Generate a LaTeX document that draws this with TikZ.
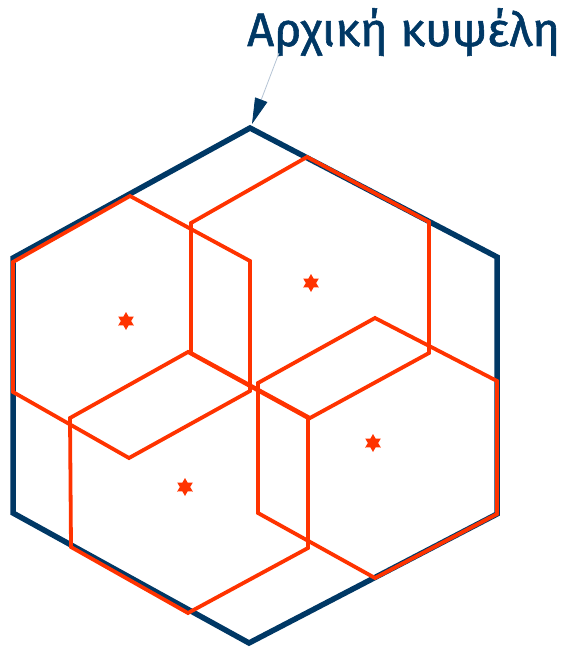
\documentclass[tikz,border=0pt]{standalone}
\usepackage{fontspec}
\setmainfont{Fira Sans}
\newfontfamily\titlefont[FakeBold=1.2]{Fira Sans}
\usetikzlibrary{shapes.geometric,arrows.meta}
\definecolor{hexblue}{RGB}{0,56,101}
\definecolor{hexred}{RGB}{255,51,0}
\definecolor{leader}{RGB}{180,195,212}
\tikzset{
  bighex/.style={draw=hexblue,line width=5.5pt,line join=miter},
  smallhex/.style={draw=hexred,line width=3.8pt,line join=miter},
  starmark/.style={star,star points=6,star point ratio=1.75,minimum size=18pt,inner sep=0pt,fill=hexred,draw=none},
  title/.style={text=hexblue,font=\titlefont\fontsize{47}{52}\selectfont,inner sep=0pt,anchor=base west}
}
\begin{document}
\begin{tikzpicture}[x=1pt,y=-1pt]
\useasboundingbox (0,0) rectangle (568,647);
% big hexagon
\coordinate (T) at (250,128);
\draw[bighex] (T) -- (497,257) -- (497,514) -- (249,643) -- (13,513) -- (13,258) -- cycle;
% small hexagons
\draw[smallhex] (130,196) -- (250,261) -- (250,391) -- (129,458) -- (13,392) -- (13,262) -- cycle;
\draw[smallhex] (307,157) -- (429,222) -- (429,353) -- (310,418) -- (191,353) -- (191,223) -- cycle;
\draw[smallhex] (188,352) -- (308,418) -- (308,548) -- (188,613) -- (71,547) -- (70,418) -- cycle;
\draw[smallhex] (375,318) -- (497,381) -- (497,514) -- (375,578) -- (258,513) -- (258,383) -- cycle;
% stars
\node[starmark] (sa) at (126,321) {};
\node[starmark] (sb) at (311,283) {};
\node[starmark] (sc) at (185,487) {};
\node[starmark] (sd) at (373,443) {};
% label and arrow
\node[title] (lbl) at (247,46) {Αρχική κυψέλη};
\coordinate (lstart) at (279,53);
\coordinate (atip) at (252,124);
\draw[leader,line width=0.8pt,-{Triangle[length=26pt,width=13pt,color=hexblue]}] (lstart) -- (atip);
\end{tikzpicture}
\end{document}
